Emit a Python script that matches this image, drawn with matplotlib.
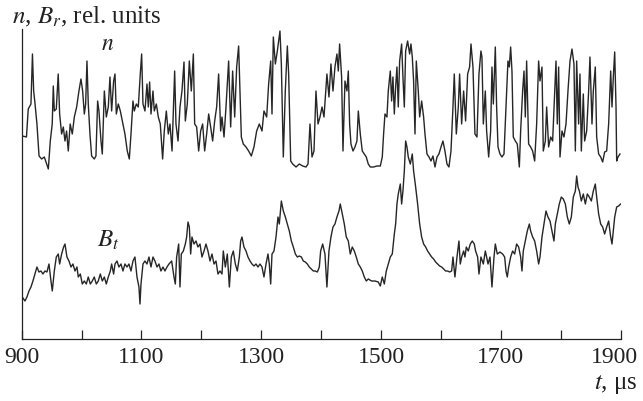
import matplotlib.pyplot as plt
from matplotlib.transforms import ScaledTranslation

# time axis, microseconds
t_ticks = [900, 1000, 1100, 1200, 1300, 1400, 1500, 1600, 1700, 1800, 1900]
t_labels = ['900', '', '1100', '', '1300', '', '1500', '', '1700', '', '1900']

# density n (rel. units)
n_t = [901, 908, 911, 915.5, 918, 920, 922, 925.5, 929, 933.3, 937.8, 941.7, 944.5, 947.8,
       951, 952.8, 954.5, 957.8, 961, 963.4, 966.7, 969.5, 972.3, 975, 977.8, 981, 984.5,
       987.9, 991.8, 995.6, 999, 1001.8, 1004.6, 1006.8, 1009, 1011.2, 1014, 1016.8, 1021.2,
       1024, 1026.8, 1029, 1032.4, 1034.6, 1038, 1041.3, 1044.6, 1047.4, 1050.2, 1053.5,
       1055.8, 1058, 1061.3, 1064.7, 1068, 1072.4, 1076.3, 1079.7, 1082.5, 1085.8, 1088,
       1091.4, 1094.7, 1098, 1100.3, 1102.5, 1105.8, 1109.2, 1111.4, 1113.6, 1115.9, 1119.2,
       1121.4, 1124.8, 1128.1, 1131.4, 1135.3, 1138.1, 1141.5, 1144.8, 1147.6, 1151, 1155.4,
       1157.6, 1161, 1164.3, 1167.6, 1171, 1173.2, 1176.5, 1179.9, 1183.2, 1186.6, 1188.8,
       1192.1, 1195.5, 1198.8, 1202.1, 1205.5, 1208.8, 1212.2, 1215.5, 1218.8, 1222.2,
       1225.5, 1228.8, 1232.2, 1234.4, 1237.8, 1241.1, 1245.5, 1248.9, 1252.2, 1255.6,
       1258.9, 1262.2, 1264.5, 1266.7, 1270, 1274.5, 1278.9, 1283.4, 1287.8, 1292.3, 1296.7,
       1301.2, 1304.5, 1309, 1312.3, 1315.7, 1317.9, 1320.1, 1323.5, 1326.8, 1331.2, 1333.5,
       1336.8, 1340.1, 1343.5, 1345.7, 1349.1, 1352.4, 1358, 1363.5, 1369.1, 1374.7, 1378,
       1381.3, 1384.7, 1388, 1391.3, 1394.7, 1398, 1401.4, 1404.7, 1409.6, 1413, 1416.3,
       1419.7, 1423, 1426.3, 1428.6, 1430.8, 1434.1, 1436.4, 1439.7, 1443, 1445.3, 1447.5,
       1449.7, 1453.1, 1456.4, 1459.7, 1462, 1465.3, 1468.6, 1472, 1475.3, 1478.6, 1482,
       1487.5, 1493.1, 1498.7, 1502, 1504.2, 1506.5, 1509.8, 1512, 1515.4, 1517.6, 1519.8,
       1522.1, 1524.3, 1526.5, 1528.7, 1531, 1534.3, 1536.5, 1538.8, 1541, 1544.3, 1547.7,
       1549.9, 1552.1, 1554.3, 1556.6, 1558.8, 1562.1, 1564.4, 1567.7, 1571, 1573.3, 1576.6,
       1580, 1583.3, 1586.6, 1590, 1593.3, 1596.6, 1600, 1603.3, 1606.6, 1610, 1613.3,
       1616.7, 1620, 1622.2, 1625.6, 1628.9, 1631.1, 1634.5, 1637.8, 1641.1, 1644.5, 1647.8,
       1650.1, 1653.4, 1656.7, 1660.1, 1663.4, 1666.7, 1668.4, 1670.7, 1674, 1676.2, 1679.6,
       1682.9, 1685.1, 1687.4, 1690.7, 1692.9, 1695.2, 1698.5, 1701.8, 1705.2, 1708.5,
       1711.8, 1714.1, 1716.3, 1718.5, 1720.7, 1724.1, 1727.4, 1730.8, 1733, 1736.3, 1738.6,
       1740.8, 1743, 1746.3, 1749.7, 1753, 1756.4, 1759.7, 1763, 1765.3, 1768.6, 1770.8,
       1774.2, 1776.4, 1779.7, 1783.1, 1786.4, 1789.8, 1792, 1794.2, 1796.4, 1798.7, 1802,
       1805.3, 1808.7, 1812, 1815.4, 1818.7, 1822, 1824.3, 1826.5, 1829.8, 1832, 1834.3,
       1837.6, 1839.8, 1843.2, 1846.5, 1848.7, 1852.1, 1854.3, 1857.6, 1859.9, 1863.2,
       1866.6, 1869.9, 1873.2, 1876.6, 1879.9, 1883.3, 1885.5, 1887.7, 1890, 1892.2, 1893.3,
       1895.5, 1898.8]
n_v = [20.3, 20.2, 23.0, 23.5, 28.5, 24.8, 23.7, 21.5, 18.3, 18.0, 18.2, 17.5, 17.0, 19.8,
       21.5, 25.3, 22.8, 23.0, 26.5, 22.5, 20.5, 21.2, 19.8, 20.8, 18.8, 21.5, 20.5,
       22.2, 23.2, 24.8, 26.0, 24.8, 22.5, 23.5, 27.8, 23.5, 20.5, 18.3, 18.0,
       18.3, 23.8, 22.8, 19.8, 18.5, 24.8, 22.2, 23.2, 26.2, 22.8, 25.8,
       26.5, 22.5, 23.5, 22.8, 21.8, 20.5, 18.8, 18.0, 20.5, 23.8, 22.8,
       23.5, 23.2, 26.5, 28.5, 23.5, 22.8, 25.5, 23.2, 25.7, 22.5, 24.8,
       22.8, 23.5, 22.2, 21.5, 18.0, 20.8, 22.8, 20.5, 21.5, 18.8, 26.8,
       21.5, 19.8, 23.2, 24.8, 27.7, 21.8, 23.5, 27.8, 24.8, 28.5, 21.5,
       21.2, 18.8, 20.8, 21.5, 18.8, 20.5, 22.5, 21.2, 19.8, 21.8,
       23.2, 26.5, 20.8, 22.2, 20.2, 23.2, 27.8, 21.2, 26.8, 22.2,
       27.2, 29.3, 24.8, 20.2, 19.5, 19.2, 18.8, 18.3, 19.2, 20.8, 21.5,
       20.8, 22.8, 22.2, 25.5, 27.8, 22.5, 30.2, 27.5, 28.8, 30.8, 27.5,
       18.2, 24.8, 29.3, 26.5, 17.8, 17.5, 17.2, 17.5, 17.3, 17.2, 17.5,
       21.5, 18.2, 18.8, 24.8, 21.5, 22.2, 23.2, 22.2, 26.5, 24.2, 27.5,
       24.8, 27.2, 28.5, 26.8, 29.5, 26.2, 18.8, 25.8, 24.8, 26.8, 21.5,
       19.5, 18.8, 19.2, 19.8, 22.8, 20.5, 18.8, 18.5, 18.2, 17.5, 17.2,
       17.2, 17.3, 17.3, 18.2, 20.5, 22.5, 22.2, 24.8, 26.8, 23.8, 26.2,
       22.5, 25.2, 27.2, 23.2, 27.8, 29.5, 26.2, 23.2, 28.8, 29.8, 28.5,
       29.5, 28.2, 25.8, 20.5, 27.8, 24.8, 22.2, 23.8, 22.2, 20.5, 18.5,
       18.2, 17.8, 18.3, 17.2, 18.2, 18.5, 19.2, 19.8, 18.8, 17.5, 17.2,
       18.8, 23.2, 26.5, 20.5, 23.2, 26.5, 21.5, 24.8, 21.8, 26.5, 27.2,
       29.5, 27.2, 20.5, 20.2, 26.5, 28.8, 28.2, 21.5, 24.8, 20.8, 18.2,
       20.8, 27.2, 23.5, 29.2, 23.2, 19.2, 18.5, 18.2, 18.5, 23.2,
       27.8, 27.2, 29.2, 26.8, 20.2, 19.8, 19.5, 17.2, 20.8, 24.8, 26.8,
       22.2, 27.8, 19.5, 19.2, 18.8, 17.8, 21.5, 27.8, 25.8, 27.2, 18.8,
       19.8, 23.2, 19.2, 20.2, 19.8, 24.8, 27.8, 21.5, 27.2, 18.2, 20.8,
       20.2, 21.5, 24.8, 27.8, 29.0, 27.5, 18.8, 27.8, 21.5, 26.5, 18.8,
       24.5, 19.8, 20.8, 24.8, 28.2, 21.5, 24.8, 27.2, 20.2, 18.5,
       18.2, 17.7, 18.7, 18.8, 21.5, 26.8, 23.2, 26.2, 28.7, 23.2, 17.8,
       18.2, 18.5]

# toroidal field B_t (rel. units)
b_t = [901, 905.5, 908.8, 912.2, 915.5, 918.8, 922.2, 925.5, 928.9, 932.2, 935.5, 938.9,
       942.2, 945.6, 948.9, 951.1, 954.5, 957.8, 961.1, 963.4, 966.7, 970, 972.3, 975.6,
       979, 982.3, 985.6, 989, 992.3, 994.5, 997.9, 1001.2, 1004.6, 1007.9, 1011.2, 1014.6,
       1017.9, 1021.2, 1024.6, 1027.9, 1031.3, 1034.6, 1038, 1041.3, 1044.6, 1048, 1050.2,
       1053.5, 1055.8, 1059.1, 1062.4, 1065.8, 1069.1, 1072.4, 1075.8, 1079.1, 1082.5,
       1085.8, 1089.1, 1092.5, 1095.8, 1097.5, 1099.2, 1102.5, 1105.8, 1109.2, 1112.5,
       1115.9, 1119.2, 1122.5, 1125.9, 1129.2, 1132.5, 1135.9, 1139.2, 1142.6, 1145.9,
       1150.4, 1154.3, 1156.5, 1158.7, 1162.1, 1164.3, 1166.5, 1169.9, 1173.2, 1175.4,
       1177.7, 1179.9, 1182.1, 1184.3, 1187.7, 1191, 1194.3, 1197.7, 1201, 1204.4, 1207.7,
       1211, 1214.4, 1217.7, 1221.1, 1224.4, 1227.7, 1231.1, 1234.4, 1236.6, 1240, 1243.3,
       1246.7, 1250, 1253.3, 1256.7, 1260, 1263.4, 1265.6, 1267.8, 1271.1, 1274.5, 1277.8,
       1281.2, 1284.5, 1287.8, 1291.2, 1294.5, 1297.9, 1301.2, 1304.5, 1307.9, 1311.2,
       1313.4, 1315.7, 1317.9, 1321.2, 1324.6, 1327.9, 1330.1, 1333.5, 1336.8, 1340.2,
       1343.5, 1346.8, 1350.2, 1353.5, 1356.9, 1360.2, 1363.5, 1366.9, 1370.2, 1373.5,
       1376.9, 1380.2, 1383.6, 1386.9, 1390.2, 1393.6, 1396.9, 1399.1, 1402.5, 1406.3,
       1409.6, 1413, 1416.3, 1419.7, 1423, 1426.3, 1429.7, 1431.9, 1435.2, 1438.6, 1441.9,
       1445.3, 1448.6, 1451.9, 1455.3, 1458.6, 1462, 1465.3, 1468.6, 1472, 1475.3, 1478.6,
       1484.2, 1489.8, 1495.3, 1498.7, 1502, 1505.4, 1508.7, 1512, 1515.4, 1518.7, 1522.1,
       1524.3, 1526.5, 1528.7, 1532.1, 1534.3, 1536.5, 1538.8, 1541, 1543.2, 1545.4, 1548.8,
       1552.1, 1554.3, 1557.7, 1561, 1564.4, 1567.7, 1571, 1574.4, 1577.7, 1581, 1584.4,
       1587.7, 1591.1, 1594.4, 1597.7, 1601.1, 1604.4, 1607.8, 1611.1, 1614.4, 1617.8, 1620,
       1623.3, 1626.7, 1630, 1632.2, 1634.5, 1637.8, 1640, 1642.3, 1645.6, 1648.9, 1652.3,
       1655.6, 1657.8, 1661.2, 1663.4, 1666.7, 1670.7, 1674, 1676.2, 1678.5, 1681.8, 1685.1,
       1688.5, 1690.7, 1694, 1698.5, 1702.9, 1706.3, 1708.5, 1710.7, 1713, 1716.3, 1719.6,
       1723, 1726.3, 1729.7, 1733, 1735.2, 1737.4, 1740.8, 1744.1, 1747.5, 1749.7, 1753,
       1756.4, 1759.7, 1763, 1765.3, 1768.6, 1771.9, 1775.3, 1778.6, 1782, 1785.3, 1788.6,
       1790.9, 1794.2, 1797.5, 1800.9, 1804.2, 1807.6, 1810.9, 1814.2, 1817.6, 1820.9,
       1824.3, 1826.5, 1828.7, 1831, 1834.3, 1837.6, 1841, 1844.3, 1847.6, 1851, 1854.3,
       1857.6, 1859.9, 1863.2, 1866.6, 1869.9, 1873.2, 1876.6, 1879.9, 1883.3, 1885.5,
       1887.7, 1890, 1893.3, 1896.6, 1899.9]
b_v = [4.2, 3.8, 4.2, 4.8, 5.2, 5.8, 6.5, 7.2, 6.7, 6.8, 6.5, 6.8,
       6.7, 7.5, 5.8, 4.8, 6.8, 8.2, 8.5, 7.5, 8.5, 9.2, 9.5, 8.2,
       7.8, 7.2, 7.5, 6.8, 7.2, 6.2, 6.5, 5.5, 5.8, 5.5, 6.2, 5.5,
       5.8, 6.2, 5.5, 5.8, 6.5, 5.8, 6.2, 5.5, 6.2, 6.8, 7.5,
       6.5, 7.5, 7.8, 7.2, 7.5, 6.8, 7.5, 7.2, 7.5, 6.8,
       7.8, 8.2, 6.2, 5.2, 3.5, 5.5, 7.5, 7.8, 7.5, 8.2,
       7.2, 8.2, 7.8, 7.2, 7.5, 6.8, 7.2, 6.8, 7.2, 7.5,
       7.8, 6.2, 5.5, 8.2, 9.5, 5.2, 8.5, 8.8, 9.5, 10.2,
       11.7, 11.2, 8.5, 10.2, 9.5, 9.8, 9.2, 9.5, 8.2, 8.8, 9.5,
       8.8, 7.8, 8.5, 7.5, 7.8, 6.5, 6.8, 6.5, 8.8, 7.2, 8.5,
       5.2, 8.2, 8.8, 7.5, 6.8, 8.2, 9.8, 10.2, 9.2, 8.8, 8.2,
       7.8, 7.5, 7.3, 7.5, 7.2, 7.5, 7.2, 6.2, 7.5, 8.5,
       7.5, 5.5, 8.5, 8.8, 10.2, 12.2, 11.5, 13.8, 12.8, 12.2,
       11.5, 10.8, 9.8, 9.2, 8.5, 8.2, 8.3, 8.2, 7.8, 7.7,
       7.5, 7.2, 7.0, 6.8, 6.8, 6.7, 7.2, 8.8, 9.5, 8.5,
       5.2, 8.8, 10.2, 11.2, 11.5, 12.2, 12.8, 13.5, 12.5, 11.5, 10.2,
       9.8, 8.5, 9.2, 8.8, 8.2, 7.5, 7.2, 6.8, 6.2, 5.8, 6.0,
       5.8, 5.8, 5.7, 5.3, 6.2, 5.5, 6.8, 7.5, 8.2, 8.5, 10.5,
       11.5, 13.5, 14.5, 15.5, 13.5, 14.8, 16.8, 19.8, 19.2, 18.2, 17.5,
       18.5, 16.8, 15.2, 13.5, 11.5, 10.2, 9.5, 9.2, 8.8, 8.5, 8.2,
       8.0, 7.7, 7.5, 7.3, 7.2, 7.0, 6.8, 6.8, 6.7, 6.8, 8.2,
       6.2, 8.2, 9.8, 7.5, 8.2, 8.8, 8.2, 9.2, 8.8, 9.5, 9.8,
       9.5, 8.8, 8.2, 6.5, 8.2, 7.5, 8.8, 8.2, 7.5, 8.2, 5.2,
       8.2, 9.5, 8.5, 8.7, 8.5, 8.2, 6.8, 6.2, 7.2, 8.2, 8.8,
       8.5, 9.5, 9.2, 8.2, 6.8, 8.8, 9.8, 10.8, 11.5, 10.8, 10.2,
       9.8, 8.8, 7.5, 8.2, 10.2, 11.5, 12.8, 12.2, 11.8, 10.8, 9.8,
       11.5, 12.5, 13.5, 14.2, 14.0, 13.5, 12.2, 11.5, 12.2, 14.2,
       14.8, 16.3, 15.2, 14.8, 13.8, 14.5, 13.5, 14.5, 14.2, 13.8, 14.8,
       15.5, 14.2, 12.5, 11.5, 11.2, 10.5, 11.2, 11.8, 10.2, 9.5,
       10.8, 12.2, 13.2, 13.3, 13.5]

plt.rcParams['font.family'] = ['Liberation Serif', 'DejaVu Serif']
plt.rcParams['mathtext.fontset'] = 'stix'

fig = plt.figure(figsize=(6.43, 4.02), dpi=100)
ax = fig.add_axes([0.0337, 0.1542, 0.9316, 0.7712])

ax.plot(n_t, n_v, color='#262626', lw=1.0)
ax.plot(b_t, b_v, color='#262626', lw=1.0)

ax.set_xlim(900, 1900)
ax.set_ylim(0, 31)
ax.set_xticks(t_ticks)
ax.set_xticklabels(t_labels)
ax.set_yticks([])
ax.tick_params(axis='x', direction='in', length=6.5, width=0.9, labelsize=17, pad=5,
               colors='#222222')
# last label sits a little left of its tick so it stays inside the picture
last = ax.get_xticklabels()[-1]
last.set_transform(last.get_transform() + ScaledTranslation(-6 / 100, 0, fig.dpi_scale_trans))
for s in ['top', 'right']:
    ax.spines[s].set_visible(False)
for s in ['left', 'bottom']:
    ax.spines[s].set_linewidth(0.9)
    ax.spines[s].set_color('#222222')

ax.text(1044, 29.5, r'$n$', fontsize=17, ha='center', va='center', color='#222222')
ax.text(1026, 10.0, r'$B_t$', fontsize=18, ha='left', va='center', color='#222222')

fig.text(12 / 643, 1 - 17 / 402, r'$n$, $B_r$, rel. units', fontsize=18, ha='left',
         va='center', color='#222222')
fig.text(638 / 643, 1 - 385 / 402, r'$t$, μs', fontsize=18, ha='right', va='center',
         color='#222222')

fig.savefig('out.png', dpi=100)
